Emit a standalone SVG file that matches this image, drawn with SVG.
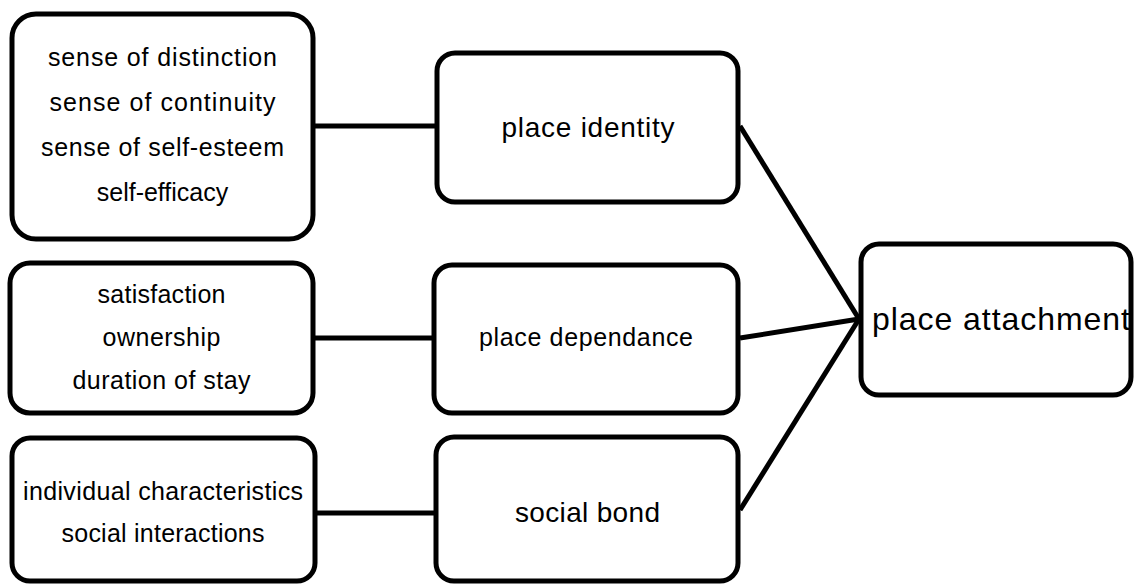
<svg xmlns="http://www.w3.org/2000/svg" width="1134" height="584" viewBox="0 0 1134 584">
<style>
.box{fill:#fff;stroke:#000;stroke-width:5}
.t{font-family:"Liberation Sans",Arial,sans-serif;fill:#000;text-anchor:middle}
.s26{font-size:25px}
.s29{font-size:28px}
.s34{font-size:32px}
.c{stroke:#000;stroke-width:5;fill:none}
</style>
<rect width="1134" height="584" fill="#fff"/>
<g id="connectors">
<line class="c" x1="313" y1="126" x2="437" y2="126"/>
<line class="c" x1="313" y1="338" x2="434" y2="338"/>
<line class="c" x1="315" y1="513" x2="436" y2="513"/>
<line class="c" x1="740" y1="126" x2="859" y2="319"/>
<line class="c" x1="740" y1="338" x2="859" y2="319"/>
<line class="c" x1="740" y1="510" x2="859" y2="319"/>
</g>
<g id="n-identity-factors">
<rect class="box" x="12" y="14" width="301" height="225" rx="24"/>
<text class="t s26" x="162.5" y="66" textLength="229">sense of distinction</text>
<text class="t s26" x="162.5" y="111" textLength="226">sense of continuity</text>
<text class="t s26" x="162.5" y="156" textLength="243">sense of self-esteem</text>
<text class="t s26" x="162.5" y="201">self-efficacy</text>
</g>
<g id="n-dependance-factors">
<rect class="box" x="10" y="263" width="303" height="150" rx="20"/>
<text class="t s26" x="161.5" y="303" textLength="128">satisfaction</text>
<text class="t s26" x="161.5" y="346" textLength="118">ownership</text>
<text class="t s26" x="161.5" y="389" textLength="178">duration of stay</text>
</g>
<g id="n-bond-factors">
<rect class="box" x="12" y="438" width="303" height="143" rx="18"/>
<text class="t s26" x="163" y="500" textLength="280">individual characteristics</text>
<text class="t s26" x="163" y="542" textLength="203">social interactions</text>
</g>
<g id="n-place-identity">
<rect class="box" x="437" y="53" width="301" height="149" rx="18"/>
<text class="t s29" x="588" y="137" textLength="173">place identity</text>
</g>
<g id="n-place-dependance">
<rect class="box" x="434" y="265" width="304" height="148" rx="18"/>
<text class="t s26" x="586" y="346" textLength="214">place dependance</text>
</g>
<g id="n-social-bond">
<rect class="box" x="436" y="437" width="302" height="144" rx="18"/>
<text class="t s29" x="587.5" y="522" textLength="145">social bond</text>
</g>
<g id="n-place-attachment">
<rect class="box" x="861" y="244" width="270" height="151" rx="18"/>
<text class="t s34" x="1001" y="330" textLength="258">place attachment</text>
</g>
</svg>
